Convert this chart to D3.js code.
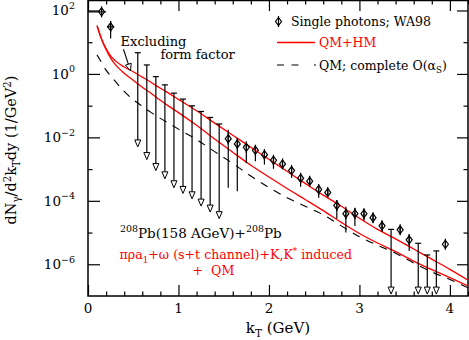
<!DOCTYPE html>
<html><head><meta charset="utf-8">
<script src="https://cdn.jsdelivr.net/npm/d3@7"></script>
<style>
html,body{margin:0;padding:0;background:#fff;}
svg{display:block;}
text{font-family:"DejaVu Serif",serif;fill:#000;}
</style></head><body>
<svg id="c" width="469" height="340"></svg>
<script>
// ---------- data ----------
const curveKT = [0.1,0.15,0.2,0.25,0.3,0.4,0.5,0.6,0.7,0.8,0.9,1.0,1.2,1.4,1.6,1.8,2.0,2.2,2.4,2.6,2.8,3.0,3.2,3.4,3.6,3.8,4.0,4.2];
// QM+HM, excluding form factor (upper red)
const qmhmNoFF = [33.1,12.6,6.31,3.72,2.63,1.66,1.17,0.794,0.537,0.355,0.240,0.158,0.0692,0.0282,0.0117,4.90e-3,2.04e-3,8.51e-4,3.55e-4,1.51e-4,6.76e-5,2.82e-5,1.26e-5,6.31e-6,3.02e-6,1.45e-6,6.92e-7,3.16e-7];
// QM+HM (lower red)
const qmhm = [33.1,12.3,5.75,3.16,2.00,1.05,0.631,0.380,0.240,0.148,0.0933,0.0603,0.0240,8.91e-3,3.39e-3,1.32e-3,5.62e-4,2.45e-4,1.10e-4,4.90e-5,2.09e-5,9.33e-6,4.68e-6,2.51e-6,1.26e-6,6.76e-7,3.80e-7,2.09e-7];
// QM; complete O(alpha_s) (dashed black)
const qmComplete = [3.98,2.29,1.32,0.871,0.589,0.282,0.155,0.0955,0.0603,0.0398,0.0269,0.0182,8.51e-3,3.55e-3,1.51e-3,6.03e-4,2.63e-4,1.26e-4,6.76e-5,3.63e-5,1.62e-5,7.41e-6,3.98e-6,2.24e-6,1.10e-6,5.75e-7,3.31e-7,1.82e-7];

// WA98 single photons: low-kT points with horizontal bars
const lowKT    = [0.15, 0.25];
const lowVal   = [90.4, 30.5];
const lowErrLo = [74.1, 13.2];
const lowErrHi = [107, 46.8];
const lowKTLo  = [0.0, 0.21];
const lowKTHi  = [0.2, 0.29];

// WA98 single photons (diamonds)
const ptKT  = [1.55,1.65,1.75,1.85,1.95,2.05,2.15,2.25,2.35,2.45,2.55,2.65,2.75,2.85,2.95,3.05,3.15,3.25,3.45,3.55,3.95];
const ptVal = [9.10e-3,6.21e-3,4.85e-3,3.91e-3,2.86e-3,1.90e-3,1.46e-3,8.99e-4,5.16e-4,4.16e-4,2.28e-4,1.84e-4,7.18e-5,3.94e-5,3.94e-5,3.94e-5,2.94e-5,1.63e-5,1.22e-5,5.92e-6,4.28e-6];
const ptHi  = [1.75e-2,9.57e-3,7.48e-3,5.48e-3,3.91e-3,2.53e-3,1.90e-3,1.23e-3,6.75e-4,5.31e-4,2.89e-4,2.28e-4,1.07e-4,6.53e-5,6.07e-5,5.65e-5,4.02e-5,2.31e-5,1.61e-5,8.81e-6,4.94e-6];
const ptLo  = [2.58e-4,2.02e-4,1.57e-3,1.76e-3,1.39e-3,1.02e-3,1.09e-3,5.31e-4,2.77e-4,3.05e-4,1.25e-4,1.48e-4,2.70e-5,9.95e-6,1.61e-5,2.31e-5,2.05e-5,1.04e-5,8.81e-6,2.64e-6,3.70e-6];

// upper limits (cap value and arrow tip)
const ulKT  = [0.55,0.65,0.75,0.85,0.95,1.05,1.15,1.25,1.35,1.45,3.35,3.65,3.75,3.85];
const ulTop = [4.67,1.92,0.822,0.452,0.248,0.161,0.0989,0.0655,0.0425,0.0264,1.26e-5,4.59e-6,1.97e-6,2.64e-6];
const ulTip = [5.00e-3,2.00e-3,8.99e-4,4.94e-4,2.58e-4,1.71e-4,1.16e-4,6.82e-5,4.42e-5,2.74e-5,1.15e-7,1.15e-7,1.15e-7,1.15e-7];

// axes
const xMajor = [0,1,2,3,4];
const xMinor = [0.2,0.4,0.6,0.8,1.2,1.4,1.6,1.8,2.2,2.4,2.6,2.8,3.2,3.4,3.6,3.8,4.2];
const xLabels = ["0","1","2","3","4"];
const yMajor = [1e2,1e0,1e-2,1e-4,1e-6];
const yMinor = [1e1,1e-1,1e-3,1e-5];
const yLabelExp = ["2","0","\u22122","\u22124","\u22126"];

// ---------- drawing ----------
const svg = d3.select("#c");
const L = 88, R = 468, T = 0, B = 296;
const x = d3.scaleLinear().domain([0, 4.2]).range([L, R]);
const y = d3.scaleLog().domain([1e-7, 214]).range([B, T]);

svg.append("defs").append("clipPath").attr("id","clip")
  .append("rect").attr("x",L).attr("y",T).attr("width",R-L).attr("height",B-T);

function ticks(axis, tr, vals, size){
  const g = svg.append("g").attr("transform",tr)
    .call(axis.tickValues(vals).tickSizeInner(-size).tickSizeOuter(0).tickFormat(""));
  g.select(".domain").remove();
  g.selectAll("line").attr("stroke","#000").attr("stroke-width",1.2);
}
ticks(d3.axisBottom(x), `translate(0,${B})`, xMajor, 11);
ticks(d3.axisBottom(x), `translate(0,${B})`, xMinor, 4.5);
ticks(d3.axisTop(x), `translate(0,${T})`, xMajor, 11);
ticks(d3.axisTop(x), `translate(0,${T})`, xMinor, 4.5);
ticks(d3.axisLeft(y), `translate(${L},0)`, yMajor, 12);
ticks(d3.axisLeft(y), `translate(${L},0)`, yMinor, 4.5);
ticks(d3.axisRight(y), `translate(${R},0)`, yMajor, 11);
ticks(d3.axisRight(y), `translate(${R},0)`, yMinor, 4.5);

svg.append("rect").attr("x",L).attr("y",T+0.5).attr("width",R-L).attr("height",B-T-0.5)
  .attr("fill","none").attr("stroke","#000").attr("stroke-width",1.5);

svg.selectAll(".xl").data(xMajor).enter().append("text")
  .attr("x",d=>x(d)).attr("y",B+17).attr("text-anchor","middle")
  .attr("font-size",13.5).text((d,i)=>xLabels[i]);
yMajor.forEach((v,i)=>{
  const t = svg.append("text").attr("x",75).attr("y",y(v)+5).attr("text-anchor","end").attr("font-size",13.5);
  t.append("tspan").text("10");
  t.append("tspan").attr("dy",-6.5).attr("font-size",9.5).text(yLabelExp[i]);
});

function rich(t, parts, base){
  let cur = 0;
  parts.forEach(p=>{
    const off = p[1]==="sub" ? 3.5 : p[1]==="sup" ? -5.5 : 0;
    const s = t.append("tspan").attr("dy", off-cur).text(p[0]);
    if(p[1]!=="n") s.attr("font-size", base*0.7);
    cur = off;
  });
}

const xt = svg.append("text").attr("x",(L+R)/2).attr("y",333).attr("text-anchor","middle").attr("font-size",15);
rich(xt, [["k","n"],["T","sub"],[" (GeV)","n"]], 15);
const yt = svg.append("text").attr("transform","translate(16,150) rotate(-90)").attr("text-anchor","middle").attr("font-size",14.5);
rich(yt, [["dN","n"],["\u03b3","sub"],["/d","n"],["2","sup"],["k","n"],["T","sub"],["dy (1/GeV","n"],["2","sup"],[")","n"]], 14.5);

const plot = svg.append("g").attr("clip-path","url(#clip)");
const line = d3.line().x(d=>x(d[0])).y(d=>y(d[1])).curve(d3.curveMonotoneX);
const z = (a)=>curveKT.map((k,i)=>[k,a[i]]);
plot.append("path").attr("d",line(z(qmComplete))).attr("fill","none").attr("stroke","#000").attr("stroke-width",1.1).attr("stroke-dasharray","8,7");
plot.append("path").attr("d",line(z(qmhmNoFF))).attr("fill","none").attr("stroke","#ff0000").attr("stroke-width",1.3);
plot.append("path").attr("d",line(z(qmhm))).attr("fill","none").attr("stroke","#ff0000").attr("stroke-width",1.3);

function diamond(g, cx, cy){
  g.append("path").attr("d",`M${cx},${cy-4}L${cx+3},${cy}L${cx},${cy+4}L${cx-3},${cy}Z`)
    .attr("fill","none").attr("stroke","#000").attr("stroke-width",1.2);
  g.append("line").attr("x1",cx).attr("x2",cx).attr("y1",cy-5.5).attr("y2",cy+5.5)
    .attr("stroke","#000").attr("stroke-width",1.2);
}
const dg = plot.append("g");
ptKT.forEach((k,i)=>{
  dg.append("line").attr("x1",x(k)).attr("x2",x(k)).attr("y1",y(ptHi[i])).attr("y2",y(ptLo[i]))
    .attr("stroke","#000").attr("stroke-width",1.2);
  diamond(dg, x(k), y(ptVal[i]));
});
lowKT.forEach((k,i)=>{
  dg.append("line").attr("x1",x(k)).attr("x2",x(k)).attr("y1",y(lowErrHi[i])).attr("y2",y(lowErrLo[i]))
    .attr("stroke","#000").attr("stroke-width",1.2);
  dg.append("line").attr("x1",x(lowKTLo[i])).attr("x2",x(lowKTHi[i])).attr("y1",y(lowVal[i])).attr("y2",y(lowVal[i]))
    .attr("stroke","#000").attr("stroke-width",1.2);
  diamond(dg, x(k), y(lowVal[i]));
});
ulKT.forEach((k,i)=>{
  const cx = x(k), yt0 = y(ulTop[i]), yb = y(ulTip[i]);
  dg.append("line").attr("x1",cx).attr("x2",cx).attr("y1",yt0).attr("y2",yb-7)
    .attr("stroke","#000").attr("stroke-width",1.2);
  dg.append("line").attr("x1",cx-3).attr("x2",cx+3).attr("y1",yt0).attr("y2",yt0)
    .attr("stroke","#000").attr("stroke-width",1.2);
  dg.append("path").attr("d",`M${cx-3},${yb-7}L${cx+3},${yb-7}L${cx},${yb}Z`)
    .attr("fill","#fff").attr("stroke","#000").attr("stroke-width",1);
});

// annotation "Excluding form factor" with arrow
const annFont = 13;
svg.append("text").attr("x",x(0.36)).attr("y",y(7.6)).attr("font-size",annFont).text("Excluding");
svg.append("text").attr("x",x(0.80)).attr("y",y(3.0)).attr("font-size",annFont).text("form factor");
(function(){
  const x1 = x(0.392), y1 = y(6.0), x2 = x(0.47), y2 = y(1.25);
  const a = Math.atan2(y2-y1, x2-x1), len = 7, hw = 3;
  const bx = x2 - len*Math.cos(a), by = y2 - len*Math.sin(a);
  svg.append("line").attr("x1",x1).attr("y1",y1).attr("x2",bx).attr("y2",by).attr("stroke","#000").attr("stroke-width",1.1);
  const px = -Math.sin(a)*hw, py = Math.cos(a)*hw;
  svg.append("path").attr("d",`M${bx+px},${by+py}L${x2},${y2}L${bx-px},${by-py}Z`)
    .attr("fill","#fff").attr("stroke","#000").attr("stroke-width",1);
})();

const t1 = svg.append("text").attr("x",120).attr("y",237.5).attr("font-size",13.5);
rich(t1, [["208","sup"],["Pb(158 AGeV)+","n"],["208","sup"],["Pb","n"]], 13.5);
const redFont = 12.6;
const t2 = svg.append("text").attr("x",119.5).attr("y",259).attr("font-size",redFont).style("fill","#ff0000");
rich(t2, [["\u03c0\u03c1a","n"],["1","sub"],["+\u03c9 (s+t channel)+K,K","n"],["*","sup"],[" induced","n"]], redFont);
svg.append("text").attr("x",192.5).attr("y",274.5).attr("font-size",redFont).style("fill","#ff0000")
  .style("white-space","pre").text("+  QM");

const lg = svg.append("g");
diamond(lg, 278.5, 21.5);
lg.append("text").attr("x",291).attr("y",26).attr("font-size",12.5).text("Single photons; WA98");
lg.append("line").attr("x1",277).attr("x2",315).attr("y1",42.5).attr("y2",42.5).attr("stroke","#ff0000").attr("stroke-width",1.3);
lg.append("text").attr("x",319).attr("y",47).attr("font-size",12.5).style("fill","#ff0000").text("QM+HM");
lg.append("line").attr("x1",277).attr("x2",316).attr("y1",65).attr("y2",65).attr("stroke","#000").attr("stroke-width",1.1).attr("stroke-dasharray","7,7.5,7,15.5,2");
const lt = lg.append("text").attr("x",319).attr("y",69.5).attr("font-size",12.5);
rich(lt, [["QM; complete O(","n"],["\u03b1","n"],["S","sub"],[")","n"]], 12.5);
</script>
</body></html>
